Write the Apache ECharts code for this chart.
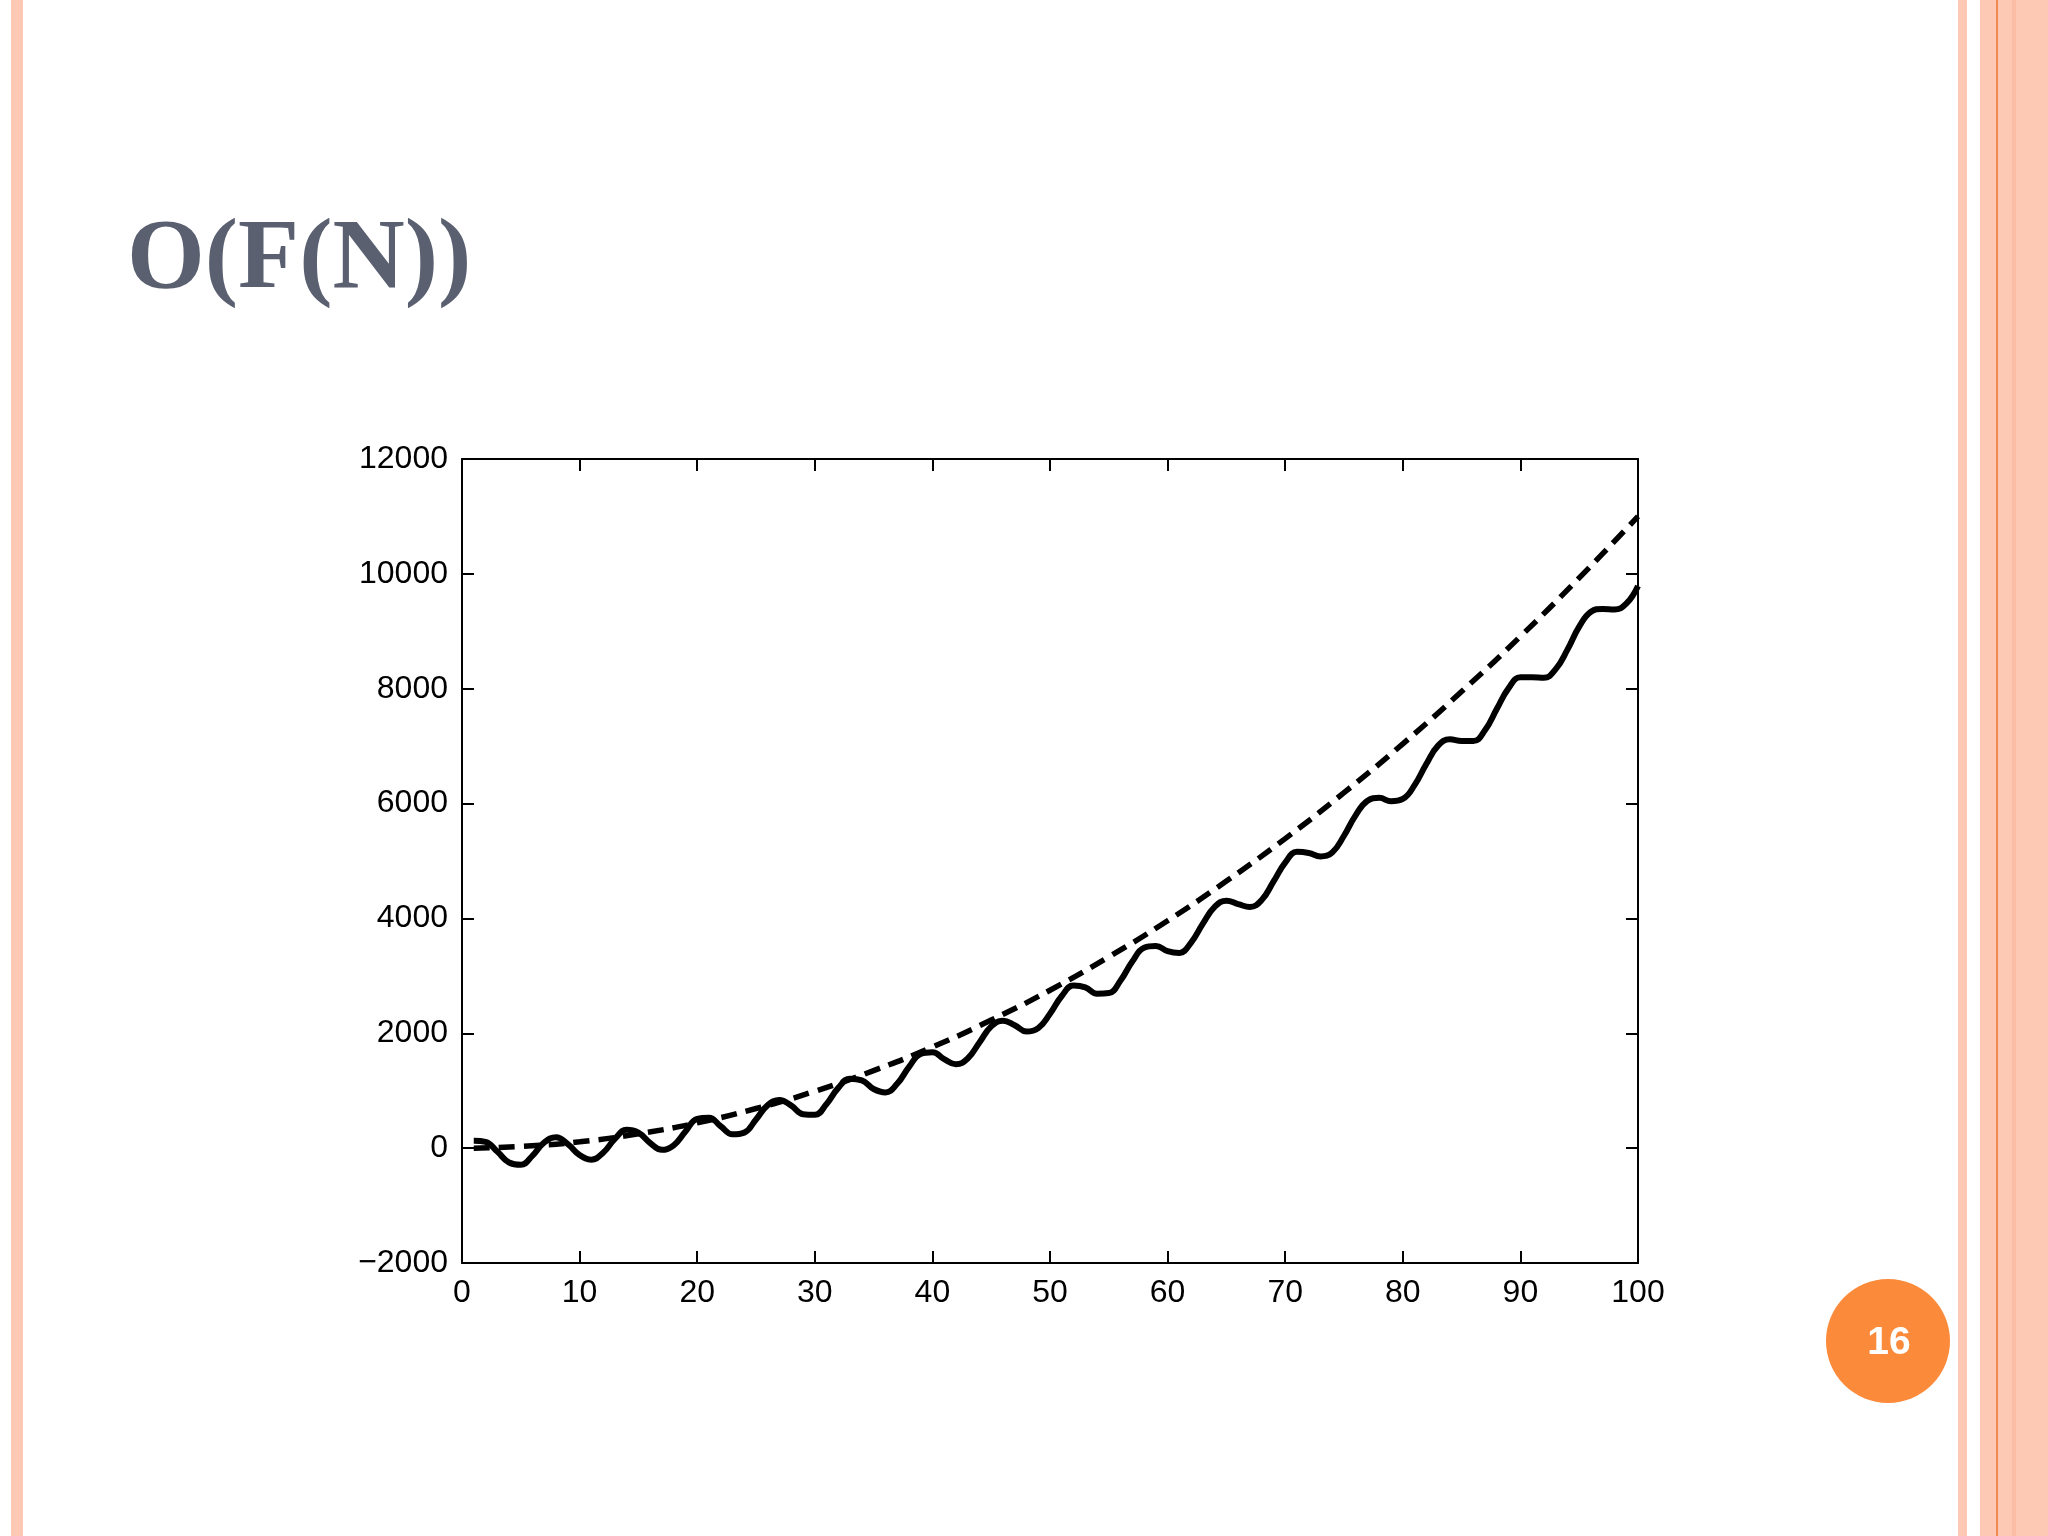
<!DOCTYPE html>
<html>
<head>
<meta charset="utf-8">
<title>O(F(N))</title>
<script src="https://cdn.jsdelivr.net/npm/echarts@6/dist/echarts.min.js"></script>
<style>
  html, body { margin: 0; padding: 0; background: #ffffff; }
  #chart { width: 2048px; height: 1536px; }
</style>
</head>
<body>
<div id="chart"></div>
<script>
// solid curve at n = 1..100
const solidX = [
  1, 2, 3, 4, 5, 6, 7, 8, 9, 10,
  11, 12, 13, 14, 15, 16, 17, 18, 19, 20,
  21, 22, 23, 24, 25, 26, 27, 28, 29, 30,
  31, 32, 33, 34, 35, 36, 37, 38, 39, 40,
  41, 42, 43, 44, 45, 46, 47, 48, 49, 50,
  51, 52, 53, 54, 55, 56, 57, 58, 59, 60,
  61, 62, 63, 64, 65, 66, 67, 68, 69, 70,
  71, 72, 73, 74, 75, 76, 77, 78, 79, 80,
  81, 82, 83, 84, 85, 86, 87, 88, 89, 90,
  91, 92, 93, 94, 95, 96, 97, 98, 99, 100
]
const solidY = [
  130, 110, -60, -250, -290, -130, 100, 190, 70, -120,
  -200, -80, 160, 320, 270, 90, -30, 50, 290, 510,
  530, 380, 240, 270, 500, 750, 840, 740, 590, 580,
  770, 1050, 1210, 1180, 1030, 970, 1120, 1410, 1640, 1670,
  1550, 1460, 1560, 1840, 2120, 2220, 2140, 2030, 2090, 2340,
  2650, 2830, 2800, 2690, 2700, 2920, 3250, 3490, 3520, 3430,
  3400, 3580, 3910, 4200, 4310, 4250, 4200, 4320, 4640, 4970,
  5160, 5140, 5080, 5150, 5440, 5800, 6050, 6100, 6040, 6080,
  6320, 6690, 7010, 7120, 7090, 7090, 7280, 7650, 8010, 8200,
  8200, 8190, 8340, 8680, 9080, 9340, 9390, 9380, 9480, 9790
]

// dashed curve
const dashX = [1, 5, 10, 15, 20, 25, 30, 35, 40, 45, 50, 55, 60, 65, 70, 75, 80, 85, 90, 95, 100]
const dashY = [0, 30, 110, 250, 440, 690, 990, 1350, 1760, 2230, 2750, 3330, 3960, 4650, 5390, 6190, 7040, 7950, 8910, 9930, 11000]

const xTicks = { min: 0, max: 100, interval: 10 }
const yTicks = { min: -2000, max: 12000, interval: 2000 }

const pairs = (xs, ys) => xs.map((x, i) => [x, ys[i]])

const chart = echarts.init(document.getElementById('chart'))

const labelFont = {
  color: '#000',
  fontFamily: 'Liberation Sans',
  fontSize: 32,
  margin: 14
}
const axisLine = { show: true, onZero: false, lineStyle: { color: '#000', width: 2 } }
const axisTick = { show: true, inside: true, length: 12, lineStyle: { color: '#000', width: 2 } }

const options = {
  backgroundColor: '#ffffff',
  animation: false,
  grid: { left: 462, top: 459, width: 1176, height: 804 },
  xAxis: [
    {
      type: 'value',
      min: xTicks.min, max: xTicks.max, interval: xTicks.interval,
      position: 'bottom',
      axisLine: axisLine,
      axisTick: axisTick,
      splitLine: { show: false },
      axisLabel: labelFont
    },
    {
      type: 'value',
      min: xTicks.min, max: xTicks.max, interval: xTicks.interval,
      position: 'top',
      axisLine: axisLine,
      axisTick: axisTick,
      splitLine: { show: false },
      axisLabel: { show: false }
    }
  ],
  yAxis: [
    {
      type: 'value',
      min: yTicks.min, max: yTicks.max, interval: yTicks.interval,
      position: 'left',
      axisLine: axisLine,
      axisTick: axisTick,
      splitLine: { show: false },
      axisLabel: Object.assign({}, labelFont, {
        formatter: v => String(v).replace('-', '\u2212')
      })
    },
    {
      type: 'value',
      min: yTicks.min, max: yTicks.max, interval: yTicks.interval,
      position: 'right',
      axisLine: axisLine,
      axisTick: axisTick,
      splitLine: { show: false },
      axisLabel: { show: false }
    }
  ],
  series: [
    {
      type: 'line',
      data: pairs(dashX, dashY),
      smooth: true,
      showSymbol: false,
      lineStyle: { color: '#000', width: 5.5, type: [16, 9] }
    },
    {
      type: 'line',
      data: pairs(solidX, solidY),
      smooth: 0.45,
      showSymbol: false,
      lineStyle: { color: '#000', width: 6 }
    }
  ],
  graphic: [
    // slide decoration
    { type: 'rect', shape: { x: 11, y: 0, width: 12, height: 1536 }, style: { fill: '#FDC8B4' } },
    { type: 'rect', shape: { x: 1958, y: 0, width: 9, height: 1536 }, style: { fill: '#FDC8B4' } },
    { type: 'rect', shape: { x: 1980, y: 0, width: 68, height: 1536 }, style: { fill: '#FDC9B5' } },
    { type: 'rect', shape: { x: 1996, y: 0, width: 2, height: 1536 }, style: { fill: '#F08A50' } },
    { type: 'rect', shape: { x: 2012, y: 0, width: 4, height: 1536 }, style: { fill: '#FBBEA4' } },
    {
      type: 'text',
      style: {
        x: 127, y: 261,
        text: 'O(F(N))',
        fill: '#5A6070',
        font: 'bold 100px "Liberation Serif"',
        verticalAlign: 'middle'
      }
    },
    { type: 'circle', shape: { cx: 1888, cy: 1341, r: 62 }, style: { fill: '#FB8A3A' } },
    {
      type: 'text',
      style: {
        x: 1889, y: 1343,
        text: '16',
        fill: '#ffffff',
        font: 'bold 39px "Liberation Sans"',
        align: 'center',
        verticalAlign: 'middle'
      }
    }
  ]
}

chart.setOption(options)
</script>
</body>
</html>
